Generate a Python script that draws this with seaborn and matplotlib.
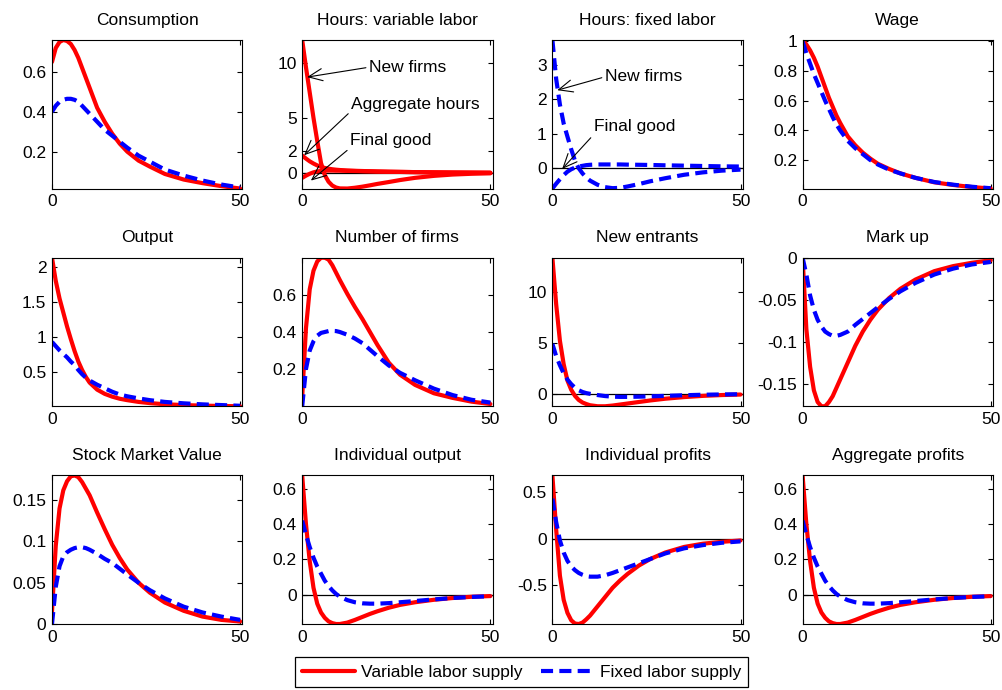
import numpy as np
import matplotlib
matplotlib.use("Agg")
import matplotlib.pyplot as plt
from matplotlib.lines import Line2D
import seaborn as sns

# ---------------- data ----------------
T = [0, 1, 2, 3, 4, 5, 6, 7, 8, 9, 10, 12, 14, 16, 18, 20, 23, 26, 30, 35, 40, 45, 50]

cons_var = [.65, .72, .75, .76, .755, .74, .71, .67, .62, .57, .52, .42, .35, .29, .24, .20, .155, .125, .088, .06, .042, .027, .015]
cons_fix = [.40, .43, .45, .46, .465, .465, .46, .45, .43, .41, .39, .35, .31, .28, .25, .22, .18, .15, .11, .08, .055, .035, .02]

hv_newfirms = [12.07, 9.6, 7.3, 5.0, 2.9, 0.9, -0.2, -0.8, -1.15, -1.33, -1.41, -1.42, -1.35, -1.25, -1.13, -1.0, -0.83, -0.65, -0.45, -0.27, -0.15, -0.08, -0.04]
hv_aggregate = [1.58, 1.3, 1.05, .85, .68, .55, .45, .38, .33, .29, .26, .22, .19, .17, .15, .13, .11, .09, .07, .05, .035, .025, .015]
hv_finalgood = [-.45, -.25, -.08, .05, .13, .18, .20, .21, .21, .20, .20, .18, .17, .15, .14, .12, .10, .09, .07, .05, .035, .025, .015]

hf_newfirms = [3.73, 2.6, 1.85, 1.3, .92, .55, .22, 0.0, -.15, -.27, -.36, -.48, -.55, -.58, -.57, -.53, -.46, -.38, -.29, -.19, -.12, -.07, -.04]
hf_finalgood = [-.59, -.45, -.32, -.2, -.1, -.03, .02, .05, .07, .09, .10, .11, .11, .11, .11, .105, .10, .095, .085, .075, .065, .055, .05]

wage_var = [1.01, .98, .94, .89, .83, .76, .69, .62, .56, .50, .45, .36, .30, .25, .21, .175, .14, .11, .08, .05, .032, .018, .008]
wage_fix = [1.0, .92, .85, .78, .72, .66, .60, .545, .49, .44, .40, .33, .28, .24, .20, .17, .135, .11, .08, .052, .034, .02, .01]

out_var = [2.13, 1.8, 1.55, 1.35, 1.15, .97, .80, .65, .53, .43, .35, .25, .19, .15, .12, .10, .075, .058, .042, .03, .022, .017, .013]
out_fix = [.93, .87, .81, .76, .71, .65, .60, .53, .47, .42, .38, .32, .27, .22, .18, .155, .125, .10, .075, .055, .04, .03, .02]

nf_var = [.05, .42, .63, .73, .78, .80, .80, .79, .76, .72, .68, .605, .535, .47, .40, .33, .235, .17, .115, .07, .045, .025, .012]
nf_fix = [0.0, .20, .30, .35, .38, .395, .40, .405, .406, .405, .40, .385, .365, .34, .305, .27, .22, .18, .14, .095, .06, .035, .02]

ne_var = [13.35, 8.8, 5.2, 2.9, 1.3, .4, -.2, -.6, -.85, -1.0, -1.12, -1.22, -1.22, -1.15, -1.05, -.95, -.8, -.65, -.48, -.32, -.2, -.12, -.07]
ne_fix = [4.9, 3.7, 2.8, 2.0, 1.4, .95, .6, .35, .18, .07, 0.0, -.12, -.22, -.28, -.3, -.3, -.28, -.25, -.2, -.14, -.09, -.06, -.04]

mu_var = [0.0, -.085, -.13, -.158, -.172, -.177, -.177, -.172, -.165, -.155, -.145, -.125, -.105, -.088, -.074, -.062, -.048, -.037, -.026, -.016, -.01, -.006, -.003]
mu_fix = [0.0, -.02, -.045, -.062, -.074, -.082, -.088, -.091, -.093, -.093, -.092, -.088, -.08, -.073, -.066, -.059, -.049, -.04, -.03, -.02, -.013, -.008, -.005]

smv_var = [.015, .095, .14, .162, .173, .179, .18, .178, .172, .164, .156, .135, .115, .096, .08, .066, .05, .038, .026, .016, .009, .005, .003]
smv_fix = [0.0, .045, .07, .082, .087, .09, .092, .093, .093, .092, .09, .085, .079, .074, .067, .06, .05, .041, .031, .021, .014, .009, .005]

io_var = [.675, .40, .19, .04, -.05, -.10, -.13, -.15, -.16, -.165, -.165, -.157, -.142, -.125, -.108, -.093, -.073, -.057, -.042, -.028, -.018, -.011, -.007]
io_fix = [.42, .34, .27, .21, .16, .12, .08, .05, .025, .005, -.01, -.03, -.042, -.048, -.05, -.05, -.047, -.042, -.035, -.026, -.018, -.012, -.008]

ip_var = [.68, .10, -.40, -.66, -.80, -.88, -.915, -.92, -.905, -.87, -.83, -.73, -.63, -.53, -.45, -.38, -.29, -.22, -.15, -.09, -.055, -.035, -.02]
ip_fix = [.43, .18, -.02, -.15, -.24, -.30, -.34, -.37, -.39, -.405, -.41, -.41, -.395, -.37, -.34, -.31, -.265, -.22, -.16, -.105, -.07, -.045, -.03]

ap_var = [.675, .40, .19, .04, -.05, -.10, -.13, -.15, -.16, -.165, -.165, -.157, -.142, -.125, -.108, -.093, -.073, -.057, -.042, -.028, -.018, -.011, -.007]
ap_fix = [.42, .34, .27, .21, .16, .12, .08, .05, .025, .005, -.01, -.03, -.042, -.048, -.05, -.05, -.047, -.042, -.035, -.026, -.018, -.012, -.008]

titles = ["Consumption", "Hours: variable labor", "Hours: fixed labor", "Wage",
          "Output", "Number of firms", "New entrants", "Mark up",
          "Stock Market Value", "Individual output", "Individual profits", "Aggregate profits"]

yticks = [[0.2, 0.4, 0.6], [0, 2, 5, 10], [0, 1, 2, 3], [0.2, 0.4, 0.6, 0.8, 1],
          [0.5, 1, 1.5, 2], [0.2, 0.4, 0.6], [0, 5, 10], [-0.15, -0.1, -0.05, 0],
          [0, 0.05, 0.1, 0.15], [0, 0.2, 0.4, 0.6], [-0.5, 0, 0.5], [0, 0.2, 0.4, 0.6]]
yticklabels = [["0.2", "0.4", "0.6"], ["0", "2", "5", "10"], ["0", "1", "2", "3"],
               ["0.2", "0.4", "0.6", "0.8", "1"], ["0.5", "1", "1.5", "2"], ["0.2", "0.4", "0.6"],
               ["0", "5", "10"], ["-0.15", "-0.1", "-0.05", "0"], ["0", "0.05", "0.1", "0.15"],
               ["0", "0.2", "0.4", "0.6"], ["-0.5", "0", "0.5"], ["0", "0.2", "0.4", "0.6"]]
xticks = [0, 50]
legend_labels = ["Variable labor supply", "Fixed labor supply"]

# series per panel: (values, kind) kind: 'var' red solid, 'fix' blue dashed
panels = [
    [(cons_var, "var"), (cons_fix, "fix")],
    [(hv_newfirms, "var"), (hv_aggregate, "var"), (hv_finalgood, "var")],
    [(hf_newfirms, "fix"), (hf_finalgood, "fix")],
    [(wage_var, "var"), (wage_fix, "fix")],
    [(out_var, "var"), (out_fix, "fix")],
    [(nf_var, "var"), (nf_fix, "fix")],
    [(ne_var, "var"), (ne_fix, "fix")],
    [(mu_var, "var"), (mu_fix, "fix")],
    [(smv_var, "var"), (smv_fix, "fix")],
    [(io_var, "var"), (io_fix, "fix")],
    [(ip_var, "var"), (ip_fix, "fix")],
    [(ap_var, "var"), (ap_fix, "fix")],
]
zero_line = [False, True, True, False, False, False, True, True, False, True, True, True]

# ---------------- style ----------------
sns.set_style("ticks")
plt.rcParams["font.family"] = ["Liberation Sans", "DejaVu Sans"]
plt.rcParams["axes.linewidth"] = 0.8
plt.rcParams["text.color"] = "black"
plt.rcParams["axes.labelcolor"] = "black"
plt.rcParams["xtick.color"] = "black"
plt.rcParams["ytick.color"] = "black"

RED = "#FF0000"
BLUE = "#0000FF"
LW = 3.0
DASH = (0, (2.9, 1.5))
styles = {"var": dict(color=RED, linewidth=LW, linestyle="-"),
          "fix": dict(color=BLUE, linewidth=LW, linestyle=DASH)}

fig, axes = plt.subplots(3, 4, figsize=(10.03, 6.90), dpi=100)
fig.subplots_adjust(left=52 / 1003, right=993 / 1003, top=1 - 40 / 690, bottom=1 - 624 / 690,
                    wspace=0.314, hspace=0.466)

for i, ax in enumerate(axes.flat):
    series = panels[i]
    if zero_line[i]:
        ax.axhline(0, color="black", linewidth=0.9, zorder=1.5)
    for vals, kind in series:
        sns.lineplot(x=np.array(T, dtype=float), y=np.array(vals, dtype=float), ax=ax,
                     legend=False, sort=False, **styles[kind])
    allv = np.concatenate([np.array(v, dtype=float) for v, _ in series])
    ax.set_ylim(allv.min(), allv.max())
    ax.set_xlim(0, 50.6)
    ax.set_xticks(xticks)
    ax.set_xticklabels([str(x) for x in xticks])
    ax.set_yticks(yticks[i])
    ax.set_yticklabels(yticklabels[i])
    ax.set_xlabel("")
    ax.set_ylabel("")
    ax.set_title(titles[i], fontsize=12.5, pad=11, color="black")
    ax.tick_params(direction="in", top=True, right=True, length=3.5, width=0.8,
                   labelsize=12.5, pad=4, colors="black")
    for s in ax.spines.values():
        s.set_visible(True)
        s.set_color("black")
        s.set_linewidth(0.8)

# annotations
arrow = dict(arrowstyle="->,head_length=0.8,head_width=0.35", color="black", lw=0.8,
             shrinkA=0, shrinkB=0)
ax2 = axes[0, 1]
ax2.annotate("New firms", xy=(1.3, 8.7), xytext=(17.8, 9.6), textcoords="data",
             ha="left", va="center", fontsize=12.5, annotation_clip=False,
             arrowprops=dict(arrow, relpos=(0, 0.5)))
ax2.annotate("Aggregate hours", xy=(0.5, 1.6), xytext=(13.1, 6.2), textcoords="data",
             ha="left", va="center", fontsize=12.5, annotation_clip=False,
             arrowprops=dict(arrow, relpos=(0.0, 0.1)))
ax2.annotate("Final good", xy=(2.3, -0.7), xytext=(12.8, 2.9), textcoords="data",
             ha="left", va="center", fontsize=12.5, annotation_clip=False,
             arrowprops=dict(arrow, relpos=(0.0, 0.05)))
ax3 = axes[0, 2]
ax3.annotate("New firms", xy=(1.3, 2.27), xytext=(14.0, 2.66), textcoords="data",
             ha="left", va="center", fontsize=12.5, annotation_clip=False,
             arrowprops=dict(arrow, relpos=(0, 0.5)))
ax3.annotate("Final good", xy=(2.6, -0.02), xytext=(11.0, 1.2), textcoords="data",
             ha="left", va="center", fontsize=12.5, annotation_clip=False,
             arrowprops=dict(arrow, relpos=(0.0, 0.0)))

handles = [Line2D([], [], **styles["var"]), Line2D([], [], **styles["fix"])]
leg = fig.legend(handles, legend_labels, loc="center", ncol=2,
                 bbox_to_anchor=(521.5 / 1003, 1 - 672 / 690), fontsize=12.5,
                 frameon=True, fancybox=False, framealpha=1, edgecolor="black",
                 handlelength=3.1, handletextpad=0.3, columnspacing=1.1, borderpad=0.4)
leg.get_frame().set_linewidth(0.9)

fig.savefig("out.png", dpi=100)
